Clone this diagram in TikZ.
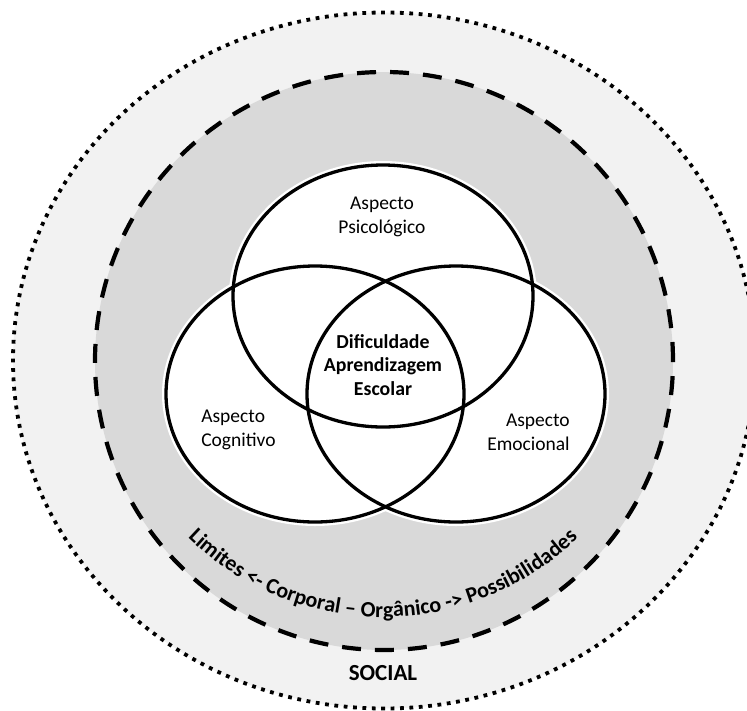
\documentclass[tikz,border=0pt]{standalone}
\usepackage{fontspec}
\setmainfont{Carlito}
\usetikzlibrary{decorations.text}
\definecolor{outerfill}{HTML}{F2F2F2}
\definecolor{innerfill}{HTML}{D9D9D9}
\newcommand\arcfont{\fontsize{22}{26}\selectfont\bfseries}
\begin{document}
\begin{tikzpicture}[x=1pt,y=1pt,
  lbl/.style={font=\fontsize{19.5}{24}\selectfont, inner sep=0pt},
  boldlbl/.style={font=\fontsize{19.8}{23.3}\selectfont\bfseries, inner sep=0pt, align=center},
  halo/.style={white, line width=8pt},
  ring/.style={black, line width=3.3pt},
  dotring/.style={fill=outerfill, line width=3.8pt, dash pattern=on 3.8pt off 5.6pt},
  dashring/.style={fill=innerfill, line width=4.2pt, dash pattern=on 19pt off 14pt}]
\useasboundingbox (0,0) rectangle (747,-710);
\begin{scope}
  \clip (0,0) rectangle (747,-710);
  \draw[dotring] (384,-360.5) ellipse [x radius=371, y radius=348];
\end{scope}
\coordinate (O) at (384,-361);
\draw[dashring] (O) circle [radius=289];
\coordinate (P) at (383,-296);
\coordinate (C) at (315,-394);
\coordinate (E) at (456,-394);
\fill[white] (P) ellipse [x radius=150, y radius=131];
\fill[white] (C) ellipse [x radius=149, y radius=128];
\fill[white] (E) ellipse [x radius=149, y radius=128];
\draw[halo] (P) ellipse [x radius=150, y radius=131];
\draw[halo] (C) ellipse [x radius=149, y radius=128];
\draw[halo] (E) ellipse [x radius=149, y radius=128];
\draw[ring] (P) ellipse [x radius=150, y radius=131];
\draw[ring] (C) ellipse [x radius=149, y radius=128];
\draw[ring] (E) ellipse [x radius=149, y radius=128];
\node[lbl, align=center] (psi) at (382,-217) {Aspecto\\Psicológico};
\node[lbl, align=left] (cog) at (238.5,-430) {Aspecto\\Cognitivo};
\node[lbl, align=right] (emo) at (528.5,-432) {Aspecto\\Emocional};
\node[boldlbl] (dif) at (383,-365) {Dificuldade\\Aprendizagem\\Escolar};
\node[font=\fontsize{23}{28}\selectfont\bfseries, inner sep=0pt] (soc) at (383,-673) {SOCIAL};
\coordinate (T) at (383,-337);
\path[decorate, decoration={text along path, text align={center},
  text={|\arcfont|Limites <- Corporal – Orgânico -> Possibilidades}}]
  (T) ++(200:280) arc [start angle=200, end angle=340, radius=280];
\end{tikzpicture}
\end{document}
